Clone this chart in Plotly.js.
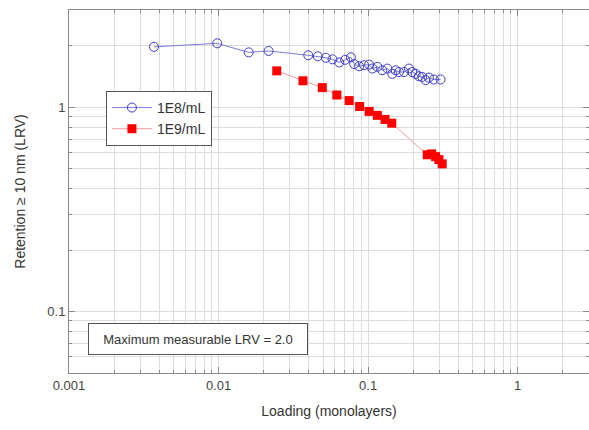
<!DOCTYPE html>
<html>
<head>
<meta charset="utf-8">
<script src="https://cdn.plot.ly/plotly-3.0.1.min.js"></script>
<style>html,body{margin:0;padding:0;background:#fff;}#chart{width:589px;height:430px;}</style>
</head>
<body>
<div id="chart"></div>
<script>
// 1E8/mL series
var loading1E8 = [0.00370, 0.00980, 0.0159, 0.0216, 0.0398, 0.0461, 0.0522, 0.0578, 0.0641, 0.0703, 0.0767, 0.0807, 0.0871, 0.0940, 0.1016, 0.1068, 0.1153, 0.1245, 0.1345, 0.1452, 0.1530, 0.1609, 0.1738, 0.1876, 0.1973, 0.2080, 0.2188, 0.2301, 0.2424, 0.2550, 0.2754, 0.3052];
var lrv1E8 = [1.98, 2.06, 1.86, 1.89, 1.80, 1.78, 1.75, 1.72, 1.66, 1.71, 1.76, 1.63, 1.59, 1.61, 1.62, 1.55, 1.58, 1.52, 1.55, 1.46, 1.52, 1.49, 1.49, 1.55, 1.49, 1.46, 1.42, 1.41, 1.36, 1.40, 1.37, 1.37];
// 1E9/mL series
var loading1E9 = [0.0245, 0.0367, 0.0494, 0.0618, 0.0747, 0.0878, 0.1016, 0.1153, 0.1298, 0.1439, 0.2485, 0.2659, 0.2827, 0.2974, 0.3129];
var lrv1E9 = [1.51, 1.35, 1.25, 1.15, 1.08, 1.01, 0.956, 0.914, 0.873, 0.837, 0.586, 0.592, 0.574, 0.555, 0.529];

var seriesNames = ["1E8/mL", "1E9/mL"];
var xTickVals = [0.001, 0.01, 0.1, 1];
var xTickText = ["0.001", "0.01", "0.1", "1"];
var yTickVals = [0.1, 1];
var yTickText = ["0.1", "1"];
var noteText = "Maximum measurable LRV = 2.0";

var gridCol = "#dcdcdc";
var axisCol = "#8a8a8a";

var traces = [
  {
    x: loading1E8, y: lrv1E8, name: seriesNames[0], type: "scatter", mode: "lines+markers",
    line: {color: "#7a7ad8", width: 1},
    marker: {symbol: "circle-open", size: 9, color: "#3c3cc8", line: {width: 1, color: "#3c3cc8"}}
  },
  {
    x: loading1E9, y: lrv1E9, name: seriesNames[1], type: "scatter", mode: "lines+markers",
    line: {color: "#f29a9a", width: 1},
    marker: {symbol: "square", size: 9, color: "#ff0000", line: {width: 0}}
  }
];

function axisBase() {
  return {
    type: "log",
    showline: true, linecolor: axisCol, linewidth: 1, mirror: "allticks",
    ticks: "inside", ticklen: 6, tickcolor: axisCol,
    showgrid: true, gridcolor: gridCol, gridwidth: 1,
    zeroline: false,
    tickfont: {family: "Liberation Sans, Arial, sans-serif", size: 13, color: "#444"},
    minor: {dtick: "D1", showgrid: true, gridcolor: gridCol, ticks: "inside", ticklen: 3, tickcolor: axisCol}
  };
}

var xaxis = axisBase();
xaxis.range = [Math.log10(0.001), Math.log10(3)];
xaxis.tickmode = "array"; xaxis.tickvals = xTickVals; xaxis.ticktext = xTickText;
xaxis.title = {text: "Loading (monolayers)", font: {family: "Liberation Sans, Arial, sans-serif", size: 14, color: "#333"}, standoff: 14};

var yaxis = axisBase();
yaxis.range = [Math.log10(0.05), Math.log10(3)];
yaxis.tickmode = "array"; yaxis.tickvals = yTickVals; yaxis.ticktext = yTickText;
yaxis.title = {text: "Retention \u2265 10 nm (LRV)", font: {family: "Liberation Sans, Arial, sans-serif", size: 14, color: "#333"}, standoff: 18};

var layout = {
  width: 589, height: 430,
  margin: {l: 69, r: 0, t: 10, b: 57},
  paper_bgcolor: "#fff", plot_bgcolor: "#fff",
  xaxis: xaxis, yaxis: yaxis,
  showlegend: true,
  legend: {
    x: 0.071, y: 0.777, xanchor: "left", yanchor: "top",
    bgcolor: "#fff", bordercolor: "#555", borderwidth: 1,
    font: {family: "Liberation Sans, Arial, sans-serif", size: 14, color: "#333"},
    itemwidth: 40, tracegroupgap: 2
  },
  annotations: [{
    xref: "paper", yref: "paper", x: 0.248, y: 0.095, xanchor: "center", yanchor: "middle",
    text: noteText, showarrow: false,
    font: {family: "Liberation Sans, Arial, sans-serif", size: 13, color: "#333"},
    bgcolor: "#fff", bordercolor: "#555", borderwidth: 1, borderpad: 3,
    width: 212, height: 24
  }]
};

Plotly.newPlot("chart", traces, layout, {staticPlot: true, displayModeBar: false});
</script>
</body>
</html>
